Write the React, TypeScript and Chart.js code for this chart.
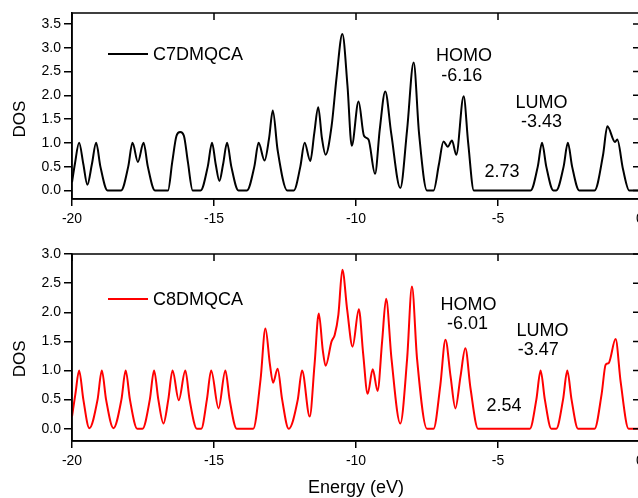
import React, { useEffect, useRef } from 'react';
import { Chart, registerables } from 'chart.js';

Chart.register(...registerables);

const FONT = '"Liberation Sans", Arial, Helvetica, sans-serif';

const xTicks = [-20, -15, -10, -5, 0];
const topYTicks = [0, 0.5, 1, 1.5, 2, 2.5, 3, 3.5];
const bottomYTicks = [0, 0.5, 1, 1.5, 2, 2.5, 3];

// C7DMQCA density of states
const c7Energy = [
  -20.0, -19.9, -19.75, -19.6, -19.46, -19.3, -19.15, -19.0, -18.75, -18.27,
  -18.02, -17.87, -17.68, -17.48, -17.33, -17.08, -16.62, -16.47, -16.32, -16.19,
  -16.06, -15.92, -15.75, -15.47, -15.22, -15.07, -14.94, -14.81, -14.68, -14.54,
  -14.39, -14.14, -13.84, -13.58, -13.43, -13.22, -13.06, -12.93, -12.76, -12.42,
  -12.19, -11.96, -11.81, -11.61, -11.47, -11.33, -11.2, -11.07, -10.86, -10.68,
  -10.48, -10.3, -10.15, -9.91, -9.72, -9.56, -9.33, -9.16, -8.97, -8.76,
  -8.44, -8.2, -7.97, -7.78, -7.5, -7.27, -7.08, -6.92, -6.77, -6.62,
  -6.47, -6.21, -6.05, -5.85, -3.85, -3.6, -3.45, -3.3, -3.05, -2.95,
  -2.69, -2.54, -2.39, -2.14, -1.6, -1.3, -1.15, -0.88, -0.8, -0.6,
  -0.38, 0.0,
];
const c7Dos = [
  0.17, 0.55, 1.0, 0.55, 0.12, 0.55, 1.0, 0.5, 0.0, 0.0,
  0.5, 1.0, 0.6, 1.0, 0.5, 0.0, 0.0, 0.6, 1.15, 1.23,
  1.15, 0.6, 0.0, 0.0, 0.5, 1.0, 0.55, 0.2, 0.55, 1.0,
  0.5, 0.0, 0.0, 0.5, 1.0, 0.63, 1.1, 1.68, 0.85, 0.0,
  0.0, 0.5, 1.0, 0.62, 1.2, 1.75, 1.1, 0.75, 1.35, 2.4,
  3.29, 2.2, 0.94, 1.87, 1.15, 1.07, 0.35, 1.3, 2.08, 1.2,
  0.05, 1.28, 2.69, 1.2, 0.0, 0.0, 0.55, 1.03, 0.92, 1.05,
  0.75, 1.98, 1.0, 0.0, 0.0, 0.5, 1.0, 0.5, 0.0, 0.0,
  0.5, 1.0, 0.5, 0.0, 0.0, 0.75, 1.35, 1.02, 1.07, 0.45,
  0.0, 0.0,
];

// C8DMQCA density of states
const c8Energy = [
  -20.0, -19.88, -19.75, -19.6, -19.39, -19.1, -18.95, -18.8, -18.54, -18.26,
  -18.11, -17.96, -17.7, -17.52, -17.26, -17.11, -16.96, -16.78, -16.61, -16.46,
  -16.24, -16.01, -15.86, -15.6, -15.45, -15.25, -15.1, -14.84, -14.6, -14.45,
  -14.2, -13.62, -13.36, -13.19, -13.03, -12.92, -12.76, -12.6, -12.37, -12.05,
  -11.9, -11.63, -11.46, -11.31, -11.17, -11.07, -10.86, -10.75, -10.62, -10.48,
  -10.31, -10.12, -9.9, -9.75, -9.59, -9.41, -9.24, -9.08, -8.94, -8.75,
  -8.44, -8.2, -8.03, -7.85, -7.5, -7.27, -7.03, -6.85, -6.67, -6.5,
  -6.32, -6.15, -5.97, -5.7, -3.88, -3.65, -3.5, -3.35, -3.12, -2.95,
  -2.71, -2.56, -2.41, -2.18, -1.6, -1.35, -1.21, -1.1, -0.86, -0.68,
  -0.4, 0.0,
];
const c8Dos = [
  0.21, 0.6, 1.0, 0.5, 0.01, 0.5, 1.0, 0.5, 0.01, 0.5,
  1.0, 0.5, 0.0, 0.0, 0.5, 1.0, 0.5, 0.09, 0.5, 1.0,
  0.49, 1.0, 0.5, 0.0, 0.0, 0.5, 1.0, 0.35, 1.0, 0.5,
  0.0, 0.0, 0.85, 1.72, 1.1, 0.79, 1.03, 0.5, 0.0, 0.5,
  1.0, 0.21, 1.1, 1.98, 1.35, 1.08, 1.5, 1.61, 1.96, 2.73,
  2.04, 1.41, 2.05, 1.3, 0.6, 1.02, 0.65, 1.5, 2.23, 1.2,
  0.09, 1.2, 2.44, 1.2, 0.0, 0.0, 0.75, 1.53, 0.9, 0.35,
  0.9, 1.38, 0.7, 0.0, 0.0, 0.5, 1.0, 0.5, 0.0, 0.0,
  0.5, 1.0, 0.5, 0.0, 0.0, 0.6, 1.1, 1.13, 1.54, 0.8,
  0.0, 0.0,
];

const topNoteText = ['HOMO', '-6.16', 'LUMO', '-3.43', '2.73'];
const topNoteX = [-6.2, -6.28, -3.47, -3.47, -4.86];
const topNoteY = [2.83, 2.41, 1.84, 1.44, 0.39];

const bottomNoteText = ['HOMO', '-6.01', 'LUMO', '-3.47', '2.54'];
const bottomNoteX = [-6.04, -6.07, -3.43, -3.58, -4.79];
const bottomNoteY = [2.13, 1.79, 1.67, 1.35, 0.39];

type PanelProps = {
  top: number;
  height: number;
  energy: number[];
  dos: number[];
  color: string;
  label: string;
  yMin: number;
  yMax: number;
  yTicks: number[];
  notesText: string[];
  notesX: number[];
  notesY: number[];
  padTop: number;
  xAxisHeight: number;
  legendY: number;
  dosLabelY: number;
  showXTitle: boolean;
};

const CANVAS_W = 660;

function Panel(p: PanelProps) {
  const ref = useRef<HTMLCanvasElement | null>(null);
  useEffect(() => {
    const canvas = ref.current;
    if (!canvas) return;
    const points = p.energy.map((e, i) => ({ x: e, y: p.dos[i] }));
    const decor = {
      id: 'decor',
      afterDraw(chart: any) {
        const { ctx, chartArea } = chart;
        const { left, right, top, bottom } = chartArea;
        const xs = chart.scales.x;
        const ys = chart.scales.y;
        ctx.save();
        ctx.strokeStyle = '#000';
        ctx.lineWidth = 1.5;
        ctx.strokeRect(left, top, right - left, bottom - top);
        ctx.beginPath();
        xTicks.forEach((v) => {
          const px = xs.getPixelForValue(v);
          ctx.moveTo(px, top);
          ctx.lineTo(px, top + 7);
        });
        p.yTicks.forEach((v) => {
          const py = ys.getPixelForValue(v);
          ctx.moveTo(right, py);
          ctx.lineTo(right - 7, py);
        });
        ctx.stroke();
        // legend
        ctx.strokeStyle = p.color;
        ctx.lineWidth = 2;
        ctx.beginPath();
        ctx.moveTo(108, p.legendY);
        ctx.lineTo(148, p.legendY);
        ctx.stroke();
        ctx.fillStyle = '#000';
        ctx.font = `18px ${FONT}`;
        ctx.textAlign = 'left';
        ctx.textBaseline = 'middle';
        ctx.fillText(p.label, 153, p.legendY + 1);
        // annotations
        ctx.textAlign = 'center';
        p.notesText.forEach((t, i) => {
          ctx.fillText(t, xs.getPixelForValue(p.notesX[i]), ys.getPixelForValue(p.notesY[i]));
        });
        if (p.showXTitle) {
          ctx.fillText('Energy (eV)', (left + right) / 2, bottom + 47);
        }
        // DOS title
        ctx.font = `17px ${FONT}`;
        ctx.save();
        ctx.translate(20, ys.getPixelForValue(p.dosLabelY));
        ctx.rotate(-Math.PI / 2);
        ctx.fillText('DOS', 0, 0);
        ctx.restore();
        ctx.restore();
      },
    };
    const chart = new Chart(canvas, {
      type: 'line',
      data: {
        datasets: [
          {
            label: p.label,
            data: points,
            borderColor: p.color,
            borderWidth: 2,
            pointRadius: 0,
            fill: false,
            cubicInterpolationMode: 'monotone',
          },
        ],
      },
      options: {
        responsive: false,
        animation: false,
        layout: { padding: { left: 0, top: p.padTop, right: CANVAS_W - 640, bottom: 0 } },
        plugins: { legend: { display: false }, tooltip: { enabled: false } },
        scales: {
          x: {
            type: 'linear',
            min: -20,
            max: 0,
            afterBuildTicks: (s: any) => {
              s.ticks = xTicks.map((v) => ({ value: v }));
            },
            afterFit: (s: any) => {
              s.height = p.xAxisHeight;
            },
            grid: { drawOnChartArea: false, drawTicks: true, tickLength: 7, color: '#000', lineWidth: 1.5 },
            border: { display: true, color: '#000', width: 1.5 },
            ticks: {
              color: '#000',
              font: { family: FONT, size: 14 },
              padding: 5,
              maxRotation: 0,
              callback: (v: any) => String(v),
            },
          },
          y: {
            type: 'linear',
            min: p.yMin,
            max: p.yMax,
            afterBuildTicks: (s: any) => {
              s.ticks = p.yTicks.map((v) => ({ value: v }));
            },
            afterFit: (s: any) => {
              s.width = 72;
            },
            grid: { drawOnChartArea: false, drawTicks: true, tickLength: 8, color: '#000', lineWidth: 1.5 },
            border: { display: true, color: '#000', width: 1.5 },
            ticks: {
              color: '#000',
              font: { family: FONT, size: 14 },
              padding: 3,
              callback: (v: any) => Number(v).toFixed(1),
            },
          },
        },
      },
      plugins: [decor],
    } as any);
    return () => chart.destroy();
  }, []);
  return (
    <canvas
      ref={ref}
      width={CANVAS_W}
      height={p.height}
      style={{ position: 'absolute', left: 0, top: p.top, width: CANVAS_W, height: p.height }}
    />
  );
}

export default function App() {
  return (
    <div
      style={{
        position: 'fixed',
        left: 0,
        top: 0,
        width: 638,
        height: 498,
        overflow: 'hidden',
        background: '#fff',
      }}
    >
      <Panel
        top={0}
        height={240}
        energy={c7Energy}
        dos={c7Dos}
        color="#000000"
        label="C7DMQCA"
        yMin={-0.18}
        yMax={3.73}
        yTicks={topYTicks}
        notesText={topNoteText}
        notesX={topNoteX}
        notesY={topNoteY}
        padTop={13}
        xAxisHeight={41}
        legendY={54}
        dosLabelY={1.5}
        showXTitle={false}
      />
      <Panel
        top={240}
        height={258}
        energy={c8Energy}
        dos={c8Dos}
        color="#ff0000"
        label="C8DMQCA"
        yMin={-0.21}
        yMax={3.0}
        yTicks={bottomYTicks}
        notesText={bottomNoteText}
        notesX={bottomNoteX}
        notesY={bottomNoteY}
        padTop={14}
        xAxisHeight={57}
        legendY={59}
        dosLabelY={1.2}
        showXTitle={true}
      />
    </div>
  );
}
